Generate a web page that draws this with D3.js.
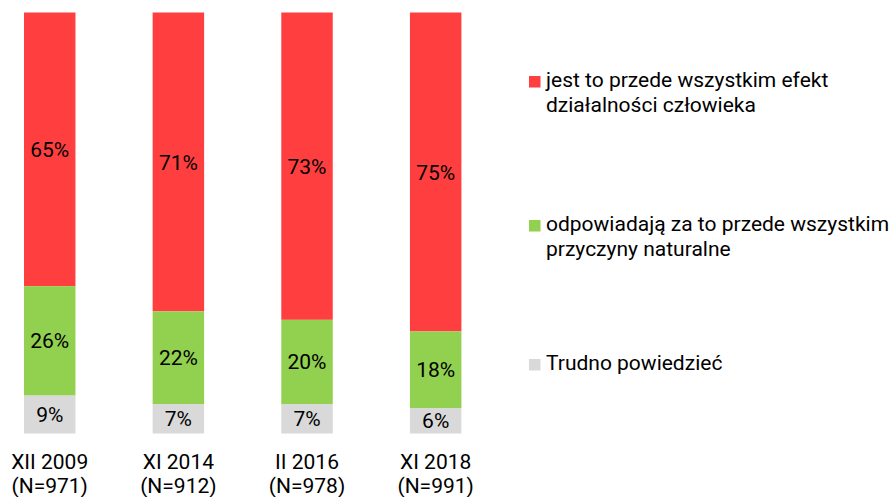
<!DOCTYPE html>
<html>
<head>
<meta charset="utf-8">
<script src="https://cdn.jsdelivr.net/npm/d3@7"></script>
<style>
  body { margin: 0; background: #fff; }
  svg { display: block; font-family: Roboto, sans-serif; }
</style>
</head>
<body>
<svg width="896" height="497"></svg>
<script>
// categories (survey waves) and their sample sizes
const waves = ["XII 2009", "XI 2014", "II 2016", "XI 2018"];
const samples = ["(N=971)", "(N=912)", "(N=978)", "(N=991)"];

// answer series, values in %
const human = [65, 71, 73, 75];
const natural = [26, 22, 20, 18];
const hard = [9, 7, 7, 6];

const seriesNames = [
  ["jest to przede wszystkim efekt", "działalności człowieka"],
  ["odpowiadają za to przede wszystkim", "przyczyny naturalne"],
  ["Trudno powiedzieć"],
];
const colors = ["#ff3f3f", "#92d050", "#d9d9d9"];

const svg = d3.select("svg");
const chartTop = 12.5;
const chartBottom = 433.5;
const fontSize = 21;

// building table for the stack layout
const keys = ["human", "natural", "hard"];
const data = waves.map((w, i) => ({
  wave: w,
  n: samples[i],
  human: human[i],
  natural: natural[i],
  hard: hard[i],
}));

// 100% stacked, each bar normalised to its own total
const stack = d3.stack().keys(keys).order(d3.stackOrderNone).offset(d3.stackOffsetExpand);
const layers = stack(data);

const xScale = d3.scaleBand()
  .domain(waves)
  .range([-14.6, 500])
  .paddingInner(0.6)
  .paddingOuter(0.3);

// first series sits on top, so the stack grows downward
const yScale = d3.scaleLinear().domain([0, 1]).range([chartTop, chartBottom]);

const graf = svg.append("g");

const groups = graf.selectAll("g.layer")
  .data(layers)
  .enter()
  .append("g")
  .attr("class", "layer")
  .attr("fill", (d, i) => colors[i]);

groups.selectAll("rect")
  .data((d) => d)
  .enter()
  .append("rect")
  .attr("x", (d) => xScale(d.data.wave))
  .attr("width", xScale.bandwidth())
  .attr("y", (d) => yScale(d[0]))
  .attr("height", (d) => yScale(d[1]) - yScale(d[0]));

// value labels in the middle of each segment
layers.forEach((layer) => {
  graf.append("g")
    .selectAll("text")
    .data(layer)
    .enter()
    .append("text")
    .attr("x", (d) => xScale(d.data.wave) + xScale.bandwidth() / 2)
    .attr("y", (d) => (yScale(d[0]) + yScale(d[1])) / 2)
    .attr("dy", "0.36em")
    .attr("text-anchor", "middle")
    .attr("font-size", fontSize)
    .attr("fill", "#000")
    .text((d) => d.data[layer.key] + "%");
});

// category labels under bars
const cats = graf.append("g")
  .selectAll("text")
  .data(data)
  .enter()
  .append("text")
  .attr("text-anchor", "middle")
  .attr("font-size", fontSize)
  .attr("fill", "#000")
  .attr("x", (d) => xScale(d.wave) + xScale.bandwidth() / 2)
  .attr("y", 469);
cats.append("tspan").text((d) => d.wave);
cats.append("tspan")
  .attr("x", (d) => xScale(d.wave) + xScale.bandwidth() / 2)
  .attr("dy", 24)
  .text((d) => d.n);

// legend
const legendY = [87, 231, 370];
const legend = svg.append("g")
  .selectAll("g")
  .data(seriesNames)
  .enter()
  .append("g")
  .attr("transform", (d, i) => `translate(529,${legendY[i]})`);

legend.append("rect")
  .attr("x", 0)
  .attr("y", -11)
  .attr("width", 11.5)
  .attr("height", 11.5)
  .attr("fill", (d, i) => colors[i]);

legend.append("text")
  .attr("x", 17)
  .attr("y", 0)
  .attr("font-size", fontSize)
  .attr("fill", "#000")
  .selectAll("tspan")
  .data((d) => d)
  .enter()
  .append("tspan")
  .attr("x", 17)
  .attr("dy", (d, i) => (i === 0 ? 0 : 25))
  .text((d) => d);
</script>
</body>
</html>
